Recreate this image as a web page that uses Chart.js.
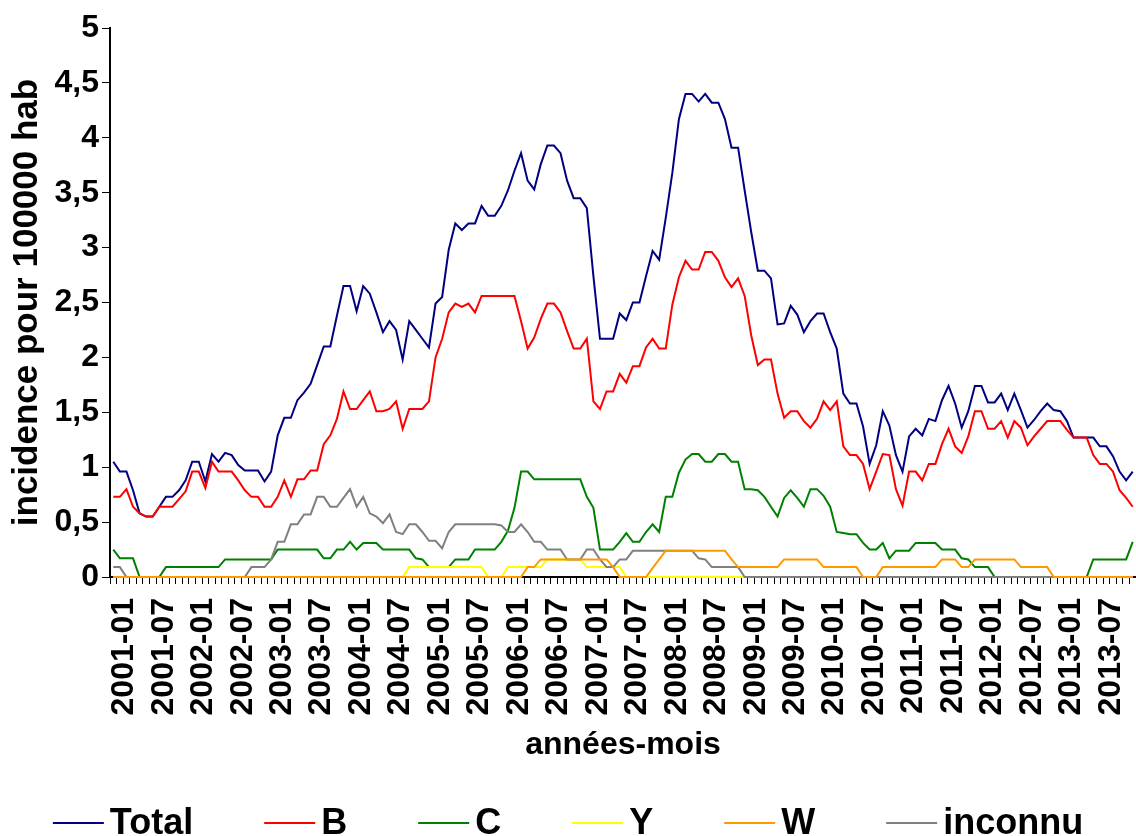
<!DOCTYPE html>
<html>
<head>
<meta charset="utf-8">
<script src="https://cdn.jsdelivr.net/npm/chart.js@4.4.1/dist/chart.umd.min.js"></script>
<style>
  html, body { margin: 0; padding: 0; background: #fff; }
  #wrap { width: 1136px; height: 836px; }
</style>
</head>
<body>
<div id="wrap"><canvas id="chartOne"></canvas></div>
<script>
// months 2001-01 .. 2013-12
var years = [2001, 2002, 2003, 2004, 2005, 2006, 2007, 2008, 2009, 2010, 2011, 2012, 2013];
var monthNums = ['01', '02', '03', '04', '05', '06', '07', '08', '09', '10', '11', '12'];
var shownMonths = ['01', '07'];

var categories = [];
years.forEach(function (y) {
    monthNums.forEach(function (m) { categories.push(y + '-' + m); });
});

// incidence pour 100000 hab, one line per year
var totalData = [
    1.05, 0.96, 0.96, 0.79, 0.58, 0.55, 0.55, 0.64, 0.73, 0.73, 0.79, 0.88,
    1.05, 1.05, 0.87, 1.12, 1.05, 1.13, 1.11, 1.02, 0.97, 0.97, 0.97, 0.87,
    0.96, 1.29, 1.45, 1.45, 1.61, 1.68, 1.76, 1.93, 2.10, 2.10, 2.38, 2.65,
    2.65, 2.42, 2.65, 2.58, 2.41, 2.23, 2.33, 2.25, 1.98, 2.33, 2.25, 2.17,
    2.09, 2.49, 2.55, 2.98, 3.22, 3.16, 3.22, 3.22, 3.38, 3.29, 3.29, 3.38,
    3.52, 3.70, 3.86, 3.61, 3.53, 3.76, 3.93, 3.93, 3.86, 3.61, 3.45, 3.45,
    3.36, 2.74, 2.17, 2.17, 2.17, 2.40, 2.34, 2.50, 2.50, 2.74, 2.97, 2.89,
    3.27, 3.68, 4.17, 4.40, 4.40, 4.33, 4.40, 4.32, 4.32, 4.17, 3.91, 3.91,
    3.52, 3.14, 2.79, 2.79, 2.72, 2.30, 2.31, 2.47, 2.39, 2.23, 2.33, 2.40,
    2.40, 2.23, 2.08, 1.67, 1.58, 1.58, 1.37, 1.03, 1.20, 1.51, 1.38, 1.11,
    0.96, 1.28, 1.35, 1.29, 1.44, 1.42, 1.61, 1.74, 1.58, 1.36, 1.51, 1.74,
    1.74, 1.59, 1.59, 1.67, 1.52, 1.67, 1.52, 1.36, 1.43, 1.51, 1.58, 1.52,
    1.51, 1.42, 1.27, 1.27, 1.27, 1.27, 1.19, 1.19, 1.10, 0.96, 0.88, 0.96
];
var bData = [
    0.73, 0.73, 0.80, 0.64, 0.58, 0.55, 0.55, 0.64, 0.64, 0.64, 0.71, 0.78,
    0.96, 0.96, 0.81, 1.05, 0.96, 0.96, 0.96, 0.88, 0.79, 0.73, 0.73, 0.64,
    0.64, 0.73, 0.88, 0.73, 0.89, 0.89, 0.97, 0.97, 1.21, 1.29, 1.44, 1.69,
    1.53, 1.53, 1.61, 1.69, 1.51, 1.51, 1.53, 1.60, 1.35, 1.53, 1.53, 1.53,
    1.60, 2.00, 2.17, 2.41, 2.49, 2.46, 2.49, 2.41, 2.56, 2.56, 2.56, 2.56,
    2.56, 2.56, 2.33, 2.08, 2.18, 2.35, 2.49, 2.49, 2.41, 2.24, 2.08, 2.08,
    2.17, 1.60, 1.53, 1.69, 1.69, 1.85, 1.77, 1.92, 1.92, 2.09, 2.17, 2.08,
    2.08, 2.48, 2.73, 2.88, 2.80, 2.80, 2.96, 2.96, 2.88, 2.73, 2.64, 2.72,
    2.56, 2.20, 1.93, 1.98, 1.98, 1.67, 1.45, 1.51, 1.51, 1.42, 1.36, 1.44,
    1.60, 1.52, 1.60, 1.19, 1.11, 1.11, 1.03, 0.80, 0.96, 1.12, 1.11, 0.80,
    0.65, 0.96, 0.96, 0.88, 1.03, 1.03, 1.21, 1.35, 1.19, 1.13, 1.28, 1.51,
    1.51, 1.35, 1.35, 1.42, 1.27, 1.42, 1.36, 1.20, 1.28, 1.35, 1.42, 1.42,
    1.42, 1.34, 1.27, 1.27, 1.27, 1.11, 1.03, 1.03, 0.96, 0.79, 0.72, 0.64
];
var cData = [
    0.25, 0.17, 0.17, 0.17, 0, 0, 0, 0, 0.09, 0.09, 0.09, 0.09,
    0.09, 0.09, 0.09, 0.09, 0.09, 0.16, 0.16, 0.16, 0.16, 0.16, 0.16, 0.16,
    0.16, 0.25, 0.25, 0.25, 0.25, 0.25, 0.25, 0.25, 0.17, 0.17, 0.25, 0.25,
    0.32, 0.25, 0.31, 0.31, 0.31, 0.25, 0.25, 0.25, 0.25, 0.25, 0.17, 0.16,
    0.09, 0.09, 0.09, 0.09, 0.16, 0.16, 0.16, 0.25, 0.25, 0.25, 0.25, 0.32,
    0.42, 0.63, 0.96, 0.96, 0.89, 0.89, 0.89, 0.89, 0.89, 0.89, 0.89, 0.89,
    0.73, 0.63, 0.25, 0.25, 0.25, 0.32, 0.40, 0.32, 0.32, 0.41, 0.48, 0.41,
    0.73, 0.73, 0.95, 1.07, 1.12, 1.12, 1.05, 1.05, 1.12, 1.12, 1.05, 1.05,
    0.80, 0.80, 0.79, 0.73, 0.64, 0.55, 0.72, 0.79, 0.72, 0.64, 0.80, 0.80,
    0.74, 0.64, 0.41, 0.40, 0.39, 0.39, 0.31, 0.25, 0.25, 0.31, 0.17, 0.24,
    0.24, 0.24, 0.31, 0.31, 0.31, 0.31, 0.25, 0.25, 0.25, 0.17, 0.16, 0.09,
    0.09, 0.09, 0, 0, 0, 0, 0, 0, 0, 0, 0, 0,
    0, 0, 0, 0, 0, 0.16, 0.16, 0.16, 0.16, 0.16, 0.16, 0.32
];
var yData = [
    0, 0, 0, 0, 0, 0, 0, 0, 0, 0, 0, 0,
    0, 0, 0, 0, 0, 0, 0, 0, 0, 0, 0, 0,
    0, 0, 0, 0, 0, 0, 0, 0, 0, 0, 0, 0,
    0, 0, 0, 0, 0, 0, 0, 0, 0, 0.09, 0.09, 0.09,
    0.09, 0.09, 0.09, 0.09, 0.09, 0.09, 0.09, 0.09, 0.09, 0, 0, 0,
    0.09, 0.09, 0.09, 0.09, 0.09, 0.09, 0.16, 0.16, 0.16, 0.16, 0.16, 0.16,
    0.09, 0.09, 0.09, 0.09, 0.09, 0.09, 0, 0, 0, 0, 0, 0,
    0, 0, 0, 0, 0, 0, 0, 0, 0, 0, 0, 0,
    0, 0, 0, 0, 0, 0, 0, 0, 0, 0, 0, 0,
    0, 0, 0, 0, 0, 0, 0, 0, 0, 0, 0, 0,
    0, 0, 0, 0, 0, 0, 0, 0, 0, 0, 0, 0,
    0, 0, 0, 0, 0, 0, 0, 0, 0, 0, 0, 0,
    0, 0, 0, 0, 0, 0, 0, 0, 0, 0, 0, 0
];
var wData = [
    0, 0, 0, 0, 0, 0, 0, 0, 0, 0, 0, 0,
    0, 0, 0, 0, 0, 0, 0, 0, 0, 0, 0, 0,
    0, 0, 0, 0, 0, 0, 0, 0, 0, 0, 0, 0,
    0, 0, 0, 0, 0, 0, 0, 0, 0, 0, 0, 0,
    0, 0, 0, 0, 0, 0, 0, 0, 0, 0, 0, 0,
    0, 0, 0, 0.09, 0.09, 0.16, 0.16, 0.16, 0.16, 0.16, 0.16, 0.16,
    0.16, 0.16, 0.16, 0.16, 0.09, 0, 0, 0, 0, 0, 0.08, 0.16,
    0.24, 0.24, 0.24, 0.24, 0.24, 0.24, 0.24, 0.24, 0.24, 0.24, 0.16, 0.09,
    0.09, 0.09, 0.09, 0.09, 0.09, 0.09, 0.16, 0.16, 0.16, 0.16, 0.16, 0.16,
    0.09, 0.09, 0.09, 0.09, 0.09, 0.09, 0, 0, 0, 0.09, 0.09, 0.09,
    0.09, 0.09, 0.09, 0.09, 0.09, 0.09, 0.16, 0.16, 0.16, 0.09, 0.09, 0.16,
    0.16, 0.16, 0.16, 0.16, 0.16, 0.16, 0.09, 0.09, 0.09, 0.09, 0.09, 0,
    0, 0, 0, 0, 0, 0, 0, 0, 0, 0, 0, 0
];
var inconnuData = [
    0.09, 0.09, 0, 0, 0, 0, 0, 0, 0, 0, 0, 0,
    0, 0, 0, 0, 0, 0, 0, 0, 0, 0.09, 0.09, 0.09,
    0.16, 0.32, 0.32, 0.48, 0.48, 0.57, 0.57, 0.73, 0.73, 0.64, 0.64, 0.72,
    0.80, 0.64, 0.73, 0.58, 0.55, 0.49, 0.57, 0.41, 0.39, 0.48, 0.48, 0.41,
    0.33, 0.33, 0.26, 0.41, 0.48, 0.48, 0.48, 0.48, 0.48, 0.48, 0.48, 0.47,
    0.41, 0.41, 0.48, 0.41, 0.32, 0.32, 0.25, 0.25, 0.25, 0.16, 0.16, 0.16,
    0.25, 0.25, 0.16, 0.09, 0.09, 0.16, 0.16, 0.24, 0.24, 0.24, 0.24, 0.24,
    0.24, 0.24, 0.24, 0.24, 0.24, 0.17, 0.16, 0.09, 0.09, 0.09, 0.09, 0.09,
    0, 0, 0, 0, 0, 0, 0, 0, 0, 0, 0, 0,
    0, 0, 0, 0, 0, 0, 0, 0, 0, 0, 0, 0,
    0, 0, 0, 0, 0, 0, 0, 0, 0, 0, 0, 0,
    0, 0, 0, 0, 0, 0, 0, 0, 0, 0, 0, 0,
    0, 0, 0, 0, 0, 0, 0, 0, 0, 0, 0, 0
];

var fontFamily = '"Liberation Sans", Arial, sans-serif';

// legend drawn under the axis title: short line + bold label
var lineLegend = {
    id: 'lineLegend',
    afterDraw: function (chart) {
        var ctx = chart.ctx;
        var sets = chart.data.datasets;
        var lineLen = 51, gap = 6, space = 71, yLine = 823, yText = 834;
        ctx.save();
        ctx.font = 'bold 36px ' + fontFamily;
        var total = 0;
        sets.forEach(function (ds, i) {
            total += lineLen + gap + ctx.measureText(ds.label).width + (i > 0 ? space : 0);
        });
        var x = (chart.width - total) / 2;
        sets.forEach(function (ds) {
            ctx.strokeStyle = ds.borderColor;
            ctx.lineWidth = 2;
            ctx.beginPath();
            ctx.moveTo(x, yLine);
            ctx.lineTo(x + lineLen, yLine);
            ctx.stroke();
            x += lineLen + gap;
            ctx.fillStyle = '#000';
            ctx.textBaseline = 'alphabetic';
            ctx.textAlign = 'left';
            ctx.fillText(ds.label, x, yText);
            x += ctx.measureText(ds.label).width + space;
        });
        ctx.restore();
    }
};

function series(label, data, color, order) {
    return {
        label: label,
        data: data,
        borderColor: color,
        backgroundColor: color,
        borderWidth: 2,
        pointRadius: 0,
        tension: 0,
        fill: false,
        clip: false,
        order: order
    };
}

var chartOne = document.getElementById('chartOne');
var myChart = new Chart(chartOne, {
    type: 'line',
    data: {
        labels: categories,
        datasets: [
            series('Total', totalData, '#000080', 6),
            series('B', bData, '#ff0000', 5),
            series('C', cData, '#008000', 4),
            series('Y', yData, '#ffff00', 3),
            series('W', wData, '#ff9900', 1),
            series('inconnu', inconnuData, '#808080', 2)
        ]
    },
    options: {
        responsive: true,
        maintainAspectRatio: false,
        animation: false,
        layout: { padding: { top: 28, right: 0, bottom: 68, left: 0 } },
        plugins: {
            legend: { display: false },
            tooltip: { enabled: false }
        },
        scales: {
            x: {
                type: 'category',
                offset: true,
                grid: { offset: true, drawOnChartArea: false, drawTicks: true, tickLength: 7, color: '#000' },
                border: { color: '#000', width: 2 },
                ticks: {
                    autoSkip: false,
                    minRotation: 90,
                    maxRotation: 90,
                    padding: 14,
                    labelOffset: 11,
                    color: '#000',
                    font: { family: fontFamily, size: 32, weight: 'bold' },
                    callback: function (value, index) {
                        var lab = categories[index];
                        return shownMonths.indexOf(lab.slice(5)) >= 0 ? lab : '';
                    }
                },
                title: {
                    display: true,
                    text: 'années-mois',
                    color: '#000',
                    font: { family: fontFamily, size: 32, weight: 'bold' },
                    padding: { top: 4, bottom: 4 }
                },
                afterFit: function (scale) {
                    scale.height = 191;
                    scale.paddingLeft = 0;
                    scale.paddingRight = 0;
                }
            },
            y: {
                min: 0,
                max: 5,
                grid: { drawOnChartArea: false, drawTicks: true, tickLength: 8, color: '#000' },
                border: { color: '#000', width: 2 },
                ticks: {
                    stepSize: 0.5,
                    padding: 3,
                    color: '#000',
                    font: { family: fontFamily, size: 32, weight: 'bold' },
                    callback: function (value) {
                        return String(value).replace('.', ',');
                    }
                },
                title: {
                    display: true,
                    text: 'incidence pour 100000 hab',
                    color: '#000',
                    font: { family: fontFamily, size: 35, weight: 'bold' },
                    padding: { top: 6, bottom: 2 }
                },
                afterFit: function (scale) {
                    scale.width = 110;
                }
            }
        }
    },
    plugins: [lineLegend]
});
</script>
</body>
</html>
